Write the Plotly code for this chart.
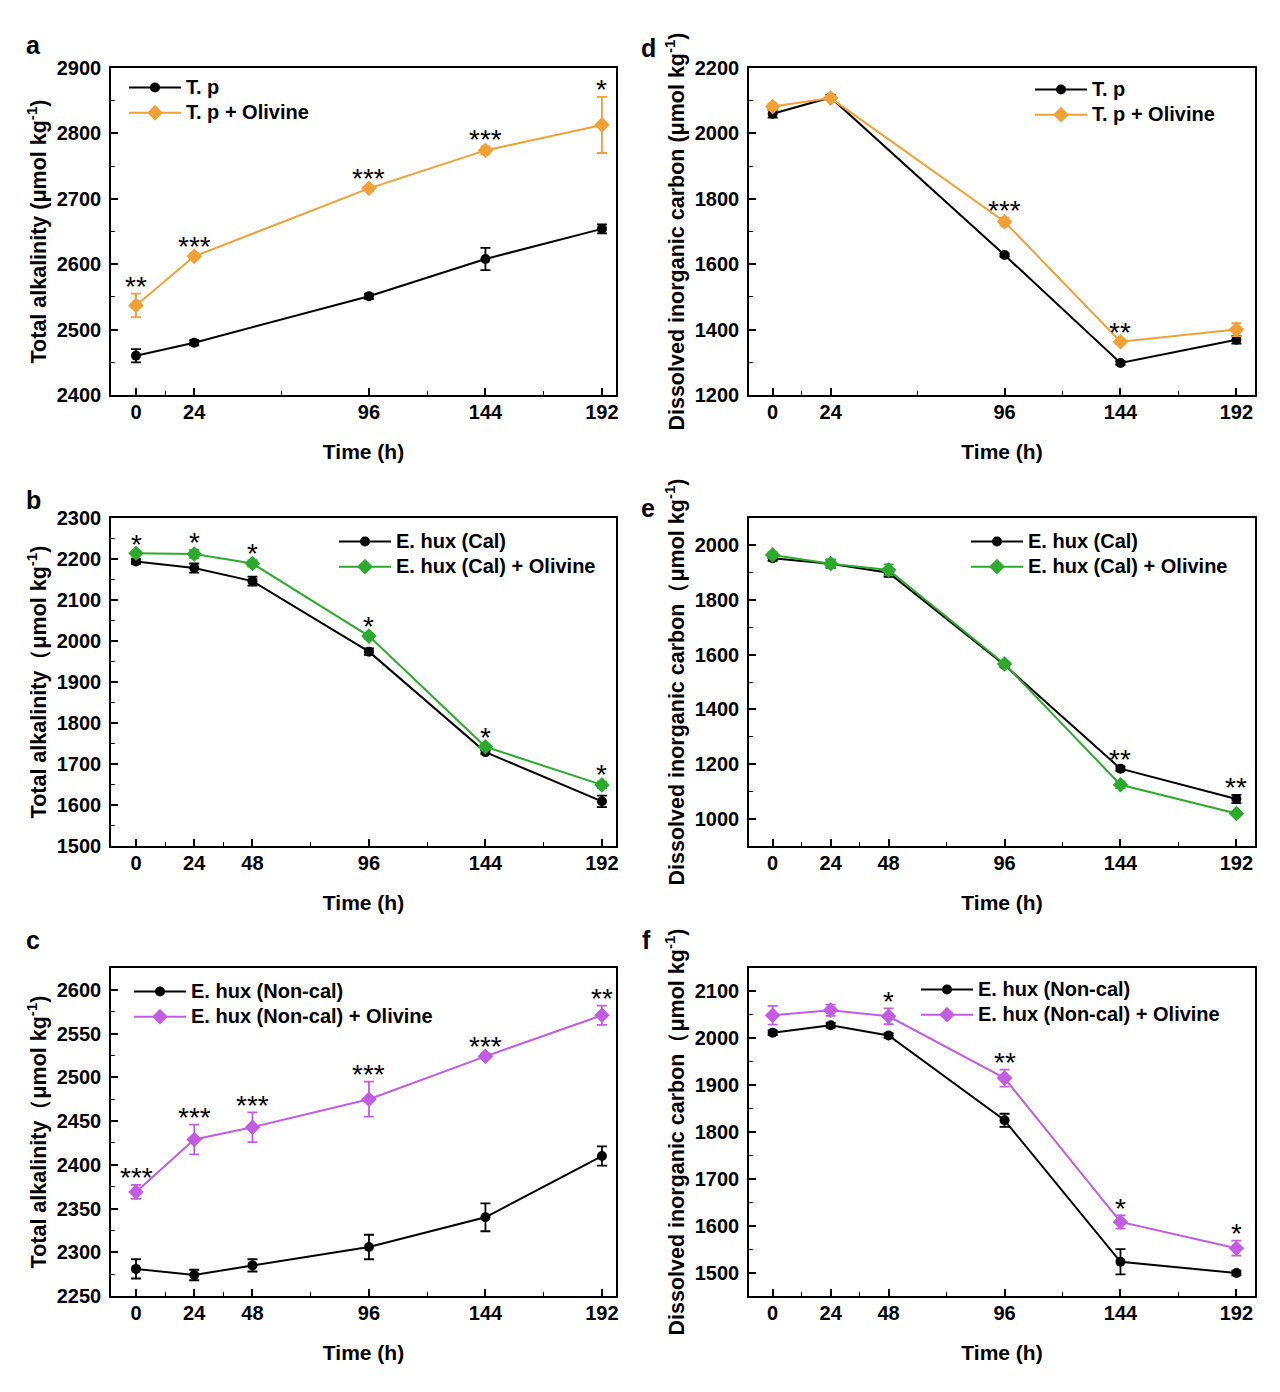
import plotly.graph_objects as go

# ---------------- data ----------------
time_a = [0, 24, 96, 144, 192]
time_b = [0, 24, 48, 96, 144, 192]

# a: Total alkalinity, T. p
ta_tp = [2460, 2480, 2551, 2608, 2654]
ta_tp_err = [10, 4, 4, 17, 7]
ta_tp_ol = [2537, 2612, 2716, 2774, 2813]
ta_tp_ol_err = [18, 5, 4, 6, 43]
sig_a = ["**", "***", "***", "***", "*"]

# b: Total alkalinity, E. hux (Cal)
ta_cal = [2194, 2178, 2146, 1974, 1729, 1609]
ta_cal_err = [6, 11, 11, 8, 5, 14]
ta_cal_ol = [2214, 2212, 2189, 2012, 1742, 1649]
ta_cal_ol_err = [5, 10, 8, 6, 6, 8]
sig_b = ["*", "*", "*", "*", "*", "*"]

# c: Total alkalinity, E. hux (Non-cal)
ta_nc = [2281, 2274, 2285, 2306, 2340, 2410]
ta_nc_err = [11, 6, 7, 14, 16, 11]
ta_nc_ol = [2369, 2429, 2443, 2475, 2524, 2571]
ta_nc_ol_err = [8, 17, 17, 20, 3, 11]
sig_c = ["***", "***", "***", "***", "***", "**"]

# d: DIC, T. p
dic_tp = [2060, 2110, 1628, 1298, 1369]
dic_tp_err = [12, 8, 5, 6, 12]
dic_tp_ol = [2082, 2108, 1730, 1363, 1400]
dic_tp_ol_err = [10, 5, 12, 8, 20]
sig_d = ["", "", "***", "**", ""]

# e: DIC, E. hux (Cal)
dic_cal = [1953, 1933, 1900, 1562, 1183, 1072]
dic_cal_err = [10, 15, 15, 8, 8, 15]
dic_cal_ol = [1965, 1933, 1910, 1566, 1124, 1019]
dic_cal_ol_err = [10, 15, 20, 8, 12, 6]
sig_e = ["", "", "", "", "**", "**"]

# f: DIC, E. hux (Non-cal)
dic_nc = [2012, 2028, 2006, 1825, 1523, 1499]
dic_nc_err = [5, 5, 5, 14, 27, 5]
dic_nc_ol = [2049, 2060, 2047, 1915, 1608, 1552]
dic_nc_ol_err = [20, 12, 17, 18, 14, 16]
sig_f = ["", "", "*", "**", "*", "*"]

names_tp = ["T. p", "T. p + Olivine"]
names_cal = ["E. hux (Cal)", "E. hux (Cal) + Olivine"]
names_nc = ["E. hux (Non-cal)", "E. hux (Non-cal) + Olivine"]

ORANGE = "#F0A035"
GREEN = "#2DAA2D"
MAGENTA = "#C25CE2"
BLACK = "#000000"

TA_TITLE = "Total alkalinity (μmol kg<sup>-1</sup>)"
TA_TITLE_FW = "Total alkalinity（μmol kg<sup>-1</sup>)"
DIC_TITLE = "Dissolved inorganic carbon (μmol kg<sup>-1</sup>)"
DIC_TITLE_FW = "Dissolved inorganic carbon（μmol kg<sup>-1</sup>)"

W, H = 1280, 1392
FONT = "Liberation Sans, Arial, sans-serif"

panels = [
    dict(letter="a", t=time_a, y0=ta_tp, e0=ta_tp_err, y1=ta_tp_ol, e1=ta_tp_ol_err,
         names=names_tp, color=ORANGE, sig=sig_a, yr=[2400, 2900],
         yt=list(range(2400, 2901, 100)), ym=50, ytitle=TA_TITLE,
         box=(111, 616, 68, 395), xr=[-10.3, 197.8], leg=(124, 70), lpos=(33, 45)),
    dict(letter="b", t=time_b, y0=ta_cal, e0=ta_cal_err, y1=ta_cal_ol, e1=ta_cal_ol_err,
         names=names_cal, color=GREEN, sig=sig_b, yr=[1500, 2300],
         yt=list(range(1500, 2301, 100)), ym=50, ytitle=TA_TITLE_FW,
         box=(111, 616, 518, 846), xr=[-10.3, 197.8], leg=(334, 524), lpos=(33, 500)),
    dict(letter="c", t=time_b, y0=ta_nc, e0=ta_nc_err, y1=ta_nc_ol, e1=ta_nc_ol_err,
         names=names_nc, color=MAGENTA, sig=sig_c, yr=[2250, 2625],
         yt=list(range(2250, 2601, 50)), ym=25, ytitle=TA_TITLE_FW,
         box=(111, 616, 968, 1296), xr=[-10.3, 197.8], leg=(129, 974), lpos=(33, 940)),
    dict(letter="d", t=time_a, y0=dic_tp, e0=dic_tp_err, y1=dic_tp_ol, e1=dic_tp_ol_err,
         names=names_tp, color=ORANGE, sig=sig_d, yr=[1200, 2200],
         yt=list(range(1200, 2201, 200)), ym=100, ytitle=DIC_TITLE,
         box=(749, 1255, 68, 395), xr=[-9.8, 199.7], leg=(1030, 72), lpos=(648, 48)),
    dict(letter="e", t=time_b, y0=dic_cal, e0=dic_cal_err, y1=dic_cal_ol, e1=dic_cal_ol_err,
         names=names_cal, color=GREEN, sig=sig_e, yr=[900, 2100],
         yt=list(range(1000, 2001, 200)), ym=100, ytitle=DIC_TITLE_FW,
         box=(749, 1255, 518, 846), xr=[-9.8, 199.7], leg=(966, 524), lpos=(648, 508)),
    dict(letter="f", t=time_b, y0=dic_nc, e0=dic_nc_err, y1=dic_nc_ol, e1=dic_nc_ol_err,
         names=names_nc, color=MAGENTA, sig=sig_f, yr=[1450, 2150],
         yt=list(range(1500, 2101, 100)), ym=100, ytitle=DIC_TITLE_FW,
         box=(749, 1255, 968, 1296), xr=[-9.8, 199.7], leg=(916, 972), lpos=(646, 940)),
]

LEG_TEXT_PX = 20


def leg_label(s):
    return f"<span style='font-size:{LEG_TEXT_PX}px'>{s}</span>"


fig = go.Figure()
annotations = []
layout = {}

for i, p in enumerate(panels):
    k = "" if i == 0 else str(i + 1)
    xa, ya = "x" + k, "y" + k
    leg = "legend" + k
    x0, x1, yt0, yb = p["box"]
    common = dict(xaxis=xa, yaxis=ya, legend=leg, mode="lines+markers")
    fig.add_trace(go.Scatter(
        x=p["t"], y=p["y0"], name=leg_label(p["names"][0]),
        line=dict(color=BLACK, width=2),
        marker=dict(symbol="circle", size=10, color=BLACK),
        error_y=dict(type="data", array=p["e0"], color=BLACK, thickness=1.8, width=5),
        **common))
    fig.add_trace(go.Scatter(
        x=p["t"], y=p["y1"], name=leg_label(p["names"][1]),
        line=dict(color=p["color"], width=2),
        marker=dict(symbol="diamond", size=12, color=p["color"]),
        error_y=dict(type="data", array=p["e1"], color=p["color"], thickness=1.8, width=5),
        **common))

    # significance stars above the highest error bar at each time
    for t, a0, s0, a1, s1, s in zip(p["t"], p["y0"], p["e0"], p["y1"], p["e1"], p["sig"]):
        if not s:
            continue
        annotations.append(dict(
            x=t, y=max(a0 + s0, a1 + s1), xref=xa, yref=ya, text=s, showarrow=False,
            yanchor="middle", yshift=7, font=dict(family=FONT, size=28, color="black")))

    # minor x ticks at midpoints of labeled ticks
    tv = p["t"]
    xminor = [(tv[j] + tv[j + 1]) / 2 for j in range(len(tv) - 1)]

    axis_common = dict(
        showline=True, linecolor="black", linewidth=1.6, mirror=True,
        ticks="inside", ticklen=7, tickwidth=1.6, tickcolor="black",
        showgrid=False, zeroline=False, automargin=False,
        tickfont=dict(family=FONT, size=20, color="black", weight="bold"),
    )
    layout["xaxis" + k] = dict(
        domain=[x0 / W, x1 / W], range=p["xr"], anchor=ya,
        tickmode="array", tickvals=tv, ticktext=[str(v) for v in tv],
        minor=dict(tickmode="array", tickvals=xminor, ticks="inside", ticklen=4,
                   tickwidth=1.4, tickcolor="black"),
        title=dict(text="Time (h)", standoff=23,
                   font=dict(family=FONT, size=21, color="black", weight="bold")),
        ticklabelstandoff=-2,
        **axis_common)
    layout["yaxis" + k] = dict(
        domain=[1 - yb / H, 1 - yt0 / H], range=p["yr"], anchor=xa,
        tickmode="array", tickvals=p["yt"],
        minor=dict(dtick=p["ym"], tick0=p["yr"][0], ticks="inside", ticklen=4,
                   tickwidth=1.4, tickcolor="black"),
        title=dict(text=p["ytitle"], standoff=4,
                   font=dict(family=FONT, size=21.5, color="black", weight="bold")),
        ticklabelstandoff=4,
        **axis_common)
    lx, ly = p["leg"]
    layout[leg] = dict(
        x=lx / W, y=1 - ly / H, xanchor="left", yanchor="top",
        bgcolor="rgba(0,0,0,0)", borderwidth=0, itemwidth=52, tracegroupgap=0,
        font=dict(family=FONT, size=17, color="black", weight="bold"))

    lxp, lyp = p["lpos"]
    annotations.append(dict(
        x=lxp / W, y=1 - lyp / H, xref="paper", yref="paper", text=p["letter"],
        showarrow=False, xanchor="center", yanchor="middle",
        font=dict(family=FONT, size=25, color="black", weight="bold")))

fig.update_layout(
    width=W, height=H, margin=dict(l=0, r=0, t=0, b=0, autoexpand=False),
    paper_bgcolor="white", plot_bgcolor="white",
    annotations=annotations, showlegend=True,
    font=dict(family=FONT, color="black"),
    **layout)

fig.write_html("out.html", config={"displayModeBar": False},
               post_script="document.body.style.margin='0';")
